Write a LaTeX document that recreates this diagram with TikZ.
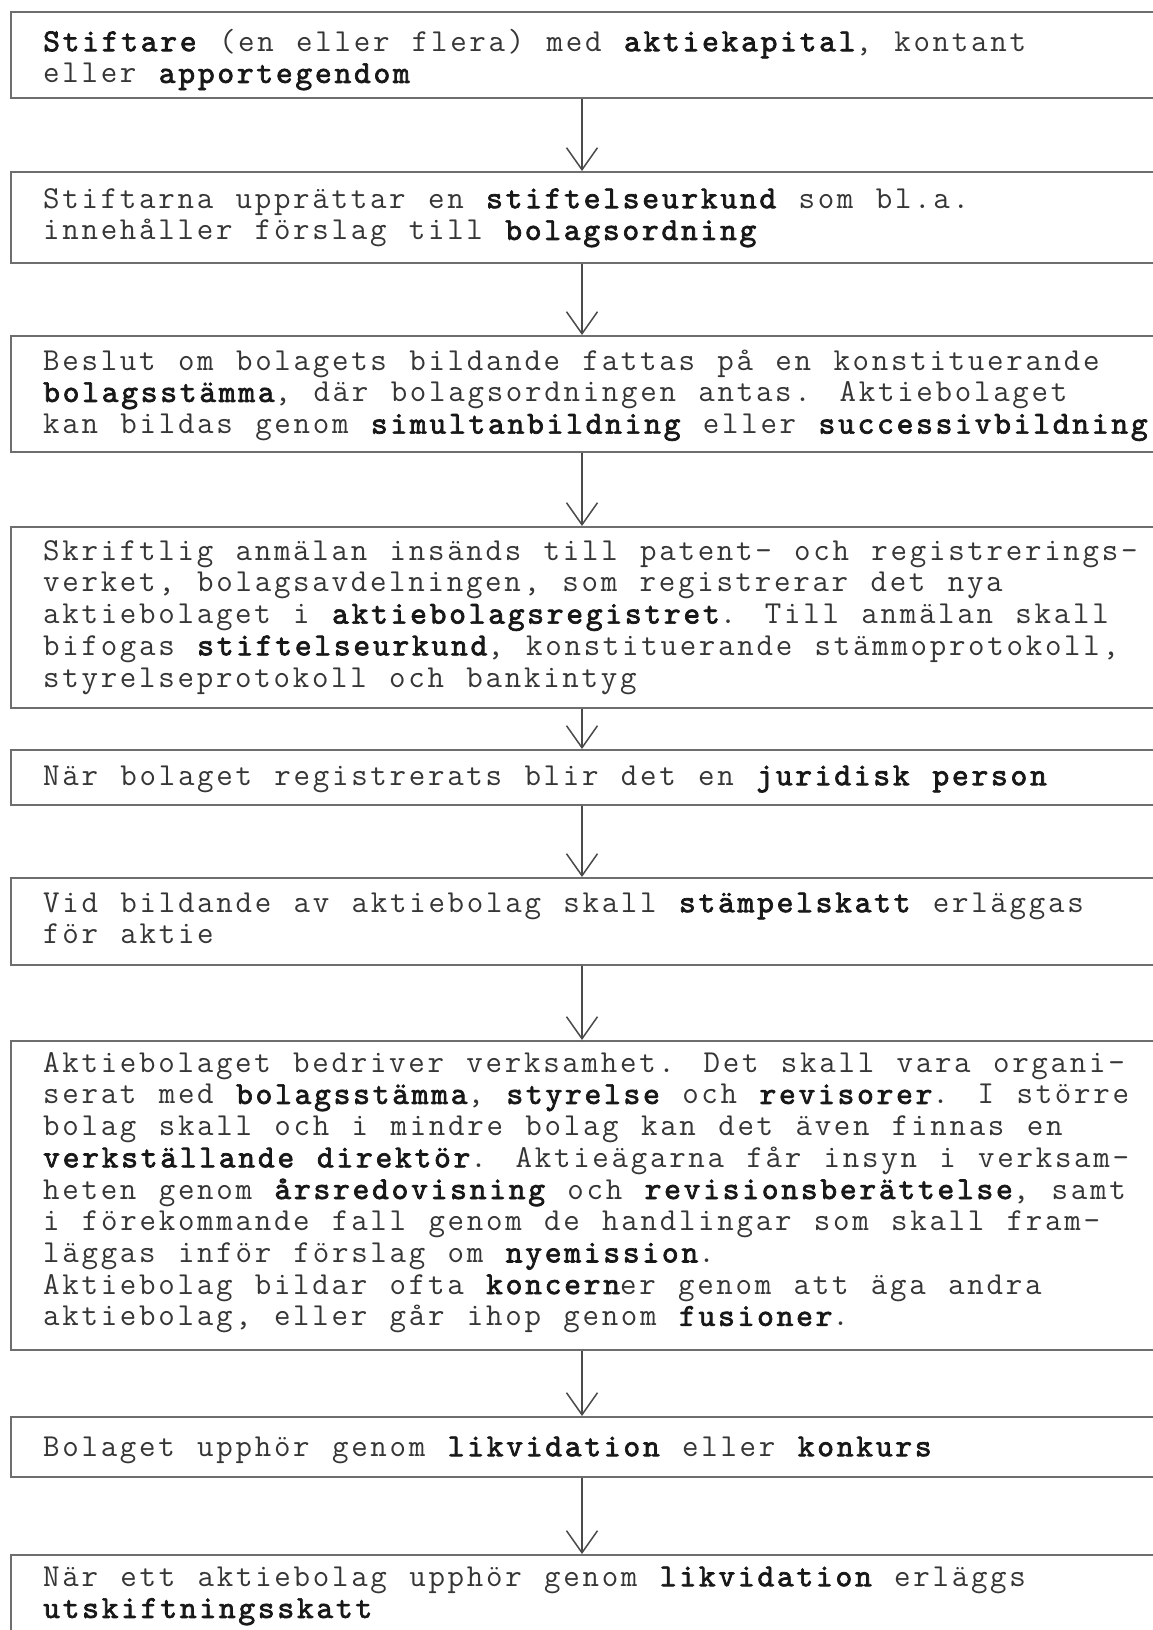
\documentclass[tikz,border=0pt]{standalone}
\usepackage{fontspec}
\usetikzlibrary{arrows.meta}
\newfontfamily\tw{lmmono12-regular}[Extension=.otf, LetterSpace=8.5, WordSpace=1.165,
  BoldFont=lmmono10-regular, BoldFeatures={FakeBold=2.2}]
\definecolor{boxline}{HTML}{6E6E6E}
\definecolor{arrowline}{HTML}{4A4A4A}
\definecolor{txt}{HTML}{363636}
\definecolor{btxt}{HTML}{181818}
\newcommand{\kw}[1]{{\bfseries\color{btxt}#1}}
\newcommand{\fl}{\rule{0pt}{25pt}}
\lineskiplimit=-60pt
\begin{document}
\begin{tikzpicture}[x=1pt,y=-1pt,
  box/.style={draw=boxline, line width=1.5pt, anchor=north west, inner sep=0pt, minimum width=1200pt},
  words/.style={anchor=north west, inner sep=0pt, align=left, text=txt,
    font=\tw\fontsize{32}{31.7}\selectfont},
  flow/.style={draw=arrowline, line width=1.5pt, -{Straight Barb[length=22pt,width=31pt,line width=1.5pt]}}
]
\useasboundingbox[fill=white] (0,0) rectangle (1153,1630);

\node[box, minimum height=86pt]  (b1) at (10,11) {};
\node[box, minimum height=91pt]  (b2) at (10,171) {};
\node[box, minimum height=116pt] (b3) at (10,335) {};
\node[box, minimum height=181pt] (b4) at (10,526) {};
\node[box, minimum height=55pt]  (b5) at (10,749) {};
\node[box, minimum height=87pt]  (b6) at (10,877) {};
\node[box, minimum height=309pt] (b7) at (10,1040) {};
\node[box, minimum height=60pt]  (b8) at (10,1416) {};
\node[box, minimum height=86pt]  (b9) at (10,1554) {};

\node[words] (t1) at (43,26)
  {\fl\kw{Stiftare} (en eller flera) med \kw{aktiekapital}, kontant\\
   eller \kw{apportegendom}};
\node[words] (t2) at (43,183)
  {\fl Stiftarna upprättar en \kw{stiftelseurkund} som bl.a.\\
   innehåller förslag till \kw{bolagsordning}};
\node[words] (t3) at (43,345)
  {\fl Beslut om bolagets bildande fattas på en konstituerande\\
   \kw{bolagsstämma}, där bolagsordningen antas. Aktiebolaget\\
   kan bildas genom \kw{simultanbildning} eller \kw{successivbildning}};
\node[words] (t4) at (43,535)
  {\fl Skriftlig anmälan insänds till patent- och registrerings-\\
   verket, bolagsavdelningen, som registrerar det nya\\
   aktiebolaget i \kw{aktiebolagsregistret}. Till anmälan skall\\
   bifogas \kw{stiftelseurkund}, konstituerande stämmoprotokoll,\\
   styrelseprotokoll och bankintyg};
\node[words] (t5) at (43,760)
  {\fl När bolaget registrerats blir det en \kw{juridisk person}};
\node[words] (t6) at (43,887)
  {\fl Vid bildande av aktiebolag skall \kw{stämpelskatt} erläggas\\
   för aktie};
\node[words] (t7) at (43,1047)
  {\fl Aktiebolaget bedriver verksamhet. Det skall vara organi-\\
   serat med \kw{bolagsstämma}, \kw{styrelse} och \kw{revisorer}. I större\\
   bolag skall och i mindre bolag kan det även finnas en\\
   \kw{verkställande direktör}. Aktieägarna får insyn i verksam-\\
   heten genom \kw{årsredovisning} och \kw{revisionsberättelse}, samt\\
   i förekommande fall genom de handlingar som skall fram-\\
   läggas inför förslag om \kw{nyemission}.\\
   Aktiebolag bildar ofta \kw{koncern}er genom att äga andra\\
   aktiebolag, eller går ihop genom \kw{fusioner}.};
\node[words] (t8) at (43,1431)
  {\fl Bolaget upphör genom \kw{likvidation} eller \kw{konkurs}};
\node[words] (t9) at (43,1561)
  {\fl När ett aktiebolag upphör genom \kw{likvidation} erläggs\\
   \kw{utskiftningsskatt}};

\foreach \a/\b in {b1/b2,b2/b3,b3/b4,b4/b5,b5/b6,b6/b7,b7/b8,b8/b9}
  \draw[flow] ([xshift=572pt]\a.south west) -- ([xshift=572pt]\b.north west);
\end{tikzpicture}
\end{document}
